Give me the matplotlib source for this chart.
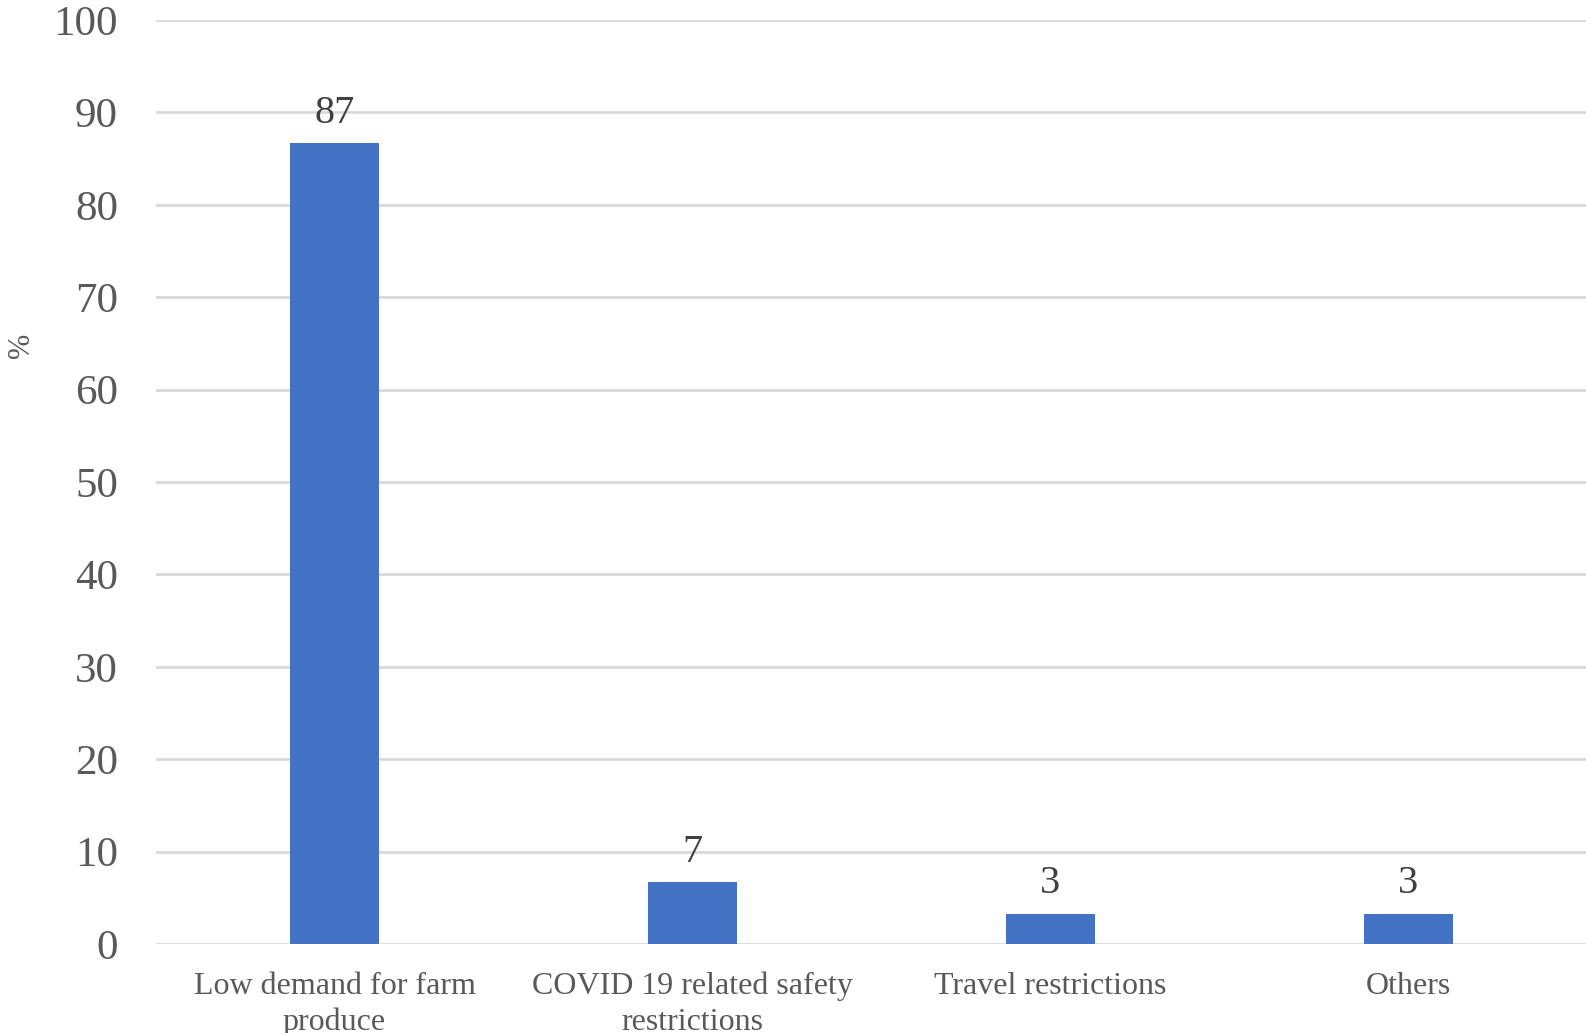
import matplotlib.pyplot as plt

# ---------- DATA ----------

categories = [
    "Low demand for farm\nproduce",
    "COVID 19 related safety\nrestrictions",
    "Travel restrictions",
    "Others",
]
shares = [86.7, 6.7, 3.3, 3.3]
value_labels = ["87", "7", "3", "3"]
y_ticks = [0, 10, 20, 30, 40, 50, 60, 70, 80, 90, 100]

# ---------- PLOTTING ----------

plt.rcParams["font.family"] = ["Liberation Serif", "DejaVu Serif"]

fig = plt.figure(figsize=(15.86, 10.33), dpi=100)
ax = fig.add_axes([155.5 / 1586, 1 - 944 / 1033, 1432 / 1586, 924 / 1033])

x = range(len(categories))
bars = ax.bar(x, shares, width=0.25, color="#4472C4", zorder=3)

for bar, lab in zip(bars, value_labels):
    ax.text(
        bar.get_x() + bar.get_width() / 2,
        bar.get_height() + 1.2,
        lab,
        ha="center",
        va="bottom",
        fontsize=29,
        color="#404040",
    )

ax.set_xlim(-0.5, len(categories) - 0.5)
ax.set_ylim(0, 100)
ax.set_yticks(y_ticks)
ax.set_xticks(list(x))
ax.set_xticklabels(categories, fontsize=23, color="#595959", linespacing=1.3)
ax.tick_params(axis="y", labelsize=31, labelcolor="#595959", length=0, pad=27)
ax.tick_params(axis="x", length=0, pad=20)

ax.grid(axis="y", color="#D9D9D9", linewidth=2, zorder=0)
for s in ["top", "right", "left", "bottom"]:
    ax.spines[s].set_visible(False)

fig.text(22 / 1586, 1 - 345 / 1033, "%", rotation=90, ha="center", va="center",
         fontsize=22, color="#595959")

fig.savefig("out.png", dpi=100)
